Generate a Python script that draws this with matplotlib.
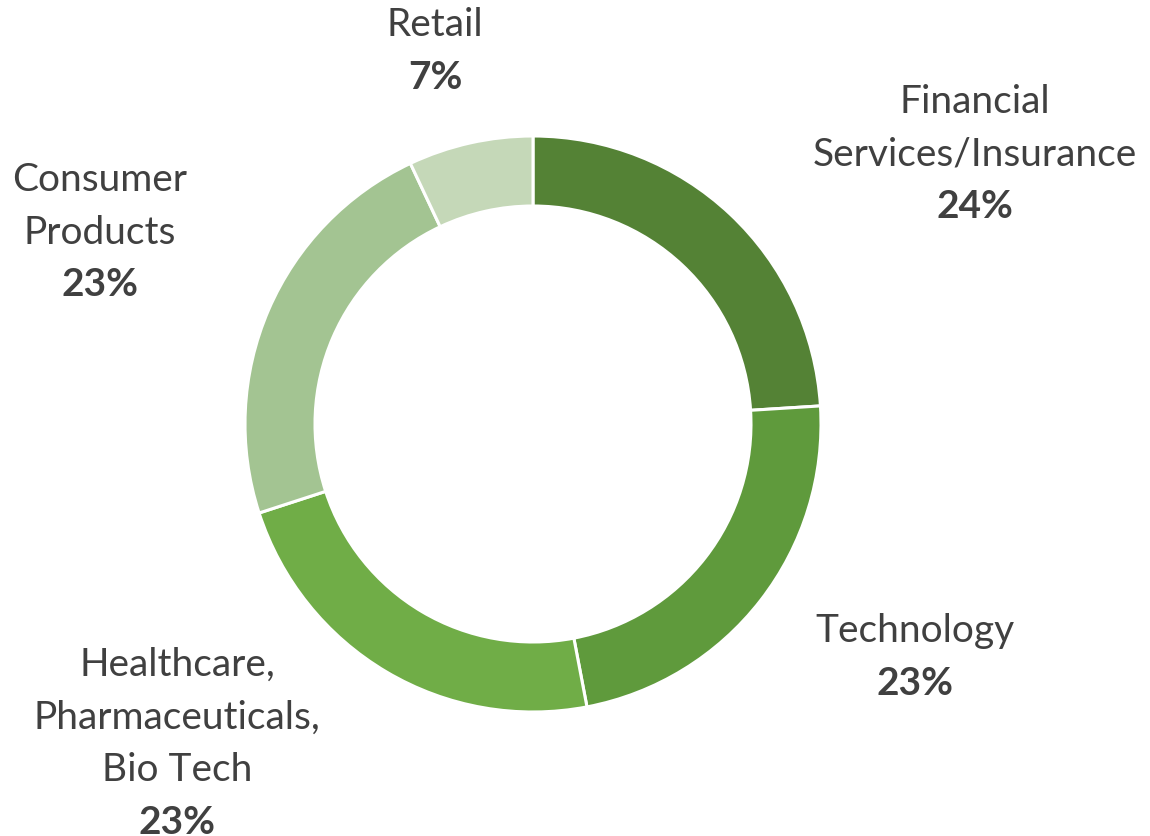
import matplotlib
matplotlib.use("Agg")
from matplotlib import pyplot as plt

# data
sectors = ["Financial\nServices/Insurance", "Technology",
           "Healthcare,\nPharmaceuticals,\nBio Tech", "Consumer\nProducts", "Retail"]
shares = [24, 23, 23, 23, 7]
colors = ["#548235", "#5f9a3c", "#70ad47", "#a3c492", "#c5d8b8"]

# label anchor (x, y of first line) in pixels from top-left
label_pos = [(975, 102), (915, 631), (177, 665), (100, 180), (435, 25)]

W, H = 1150, 837
fig = plt.figure(figsize=(W / 100, H / 100), dpi=100)
ax = fig.add_axes([0, 0, 1, 1])

cx, cy, R = 533, H - 425, 288
ax.pie(shares, colors=colors, startangle=90, counterclock=False,
       center=(cx, cy), radius=R, frame=True,
       wedgeprops=dict(width=70, edgecolor="white", linewidth=2.2))
ax.set_xlim(0, W)
ax.set_ylim(0, H)
ax.set_aspect("equal")
ax.axis("off")

font = "Lato"
line_h = 52.5
for name, val, (x, y) in zip(sectors, shares, label_pos):
    lines = name.split("\n")
    for i, ln in enumerate(lines):
        ax.text(x, H - (y + i * line_h), ln, ha="center", va="center",
                fontsize=28, color="#404040", family=font)
    ax.text(x, H - (y + len(lines) * line_h), f"{val}%", ha="center", va="center",
            fontsize=28, color="#404040", family=font, fontweight="bold")

fig.savefig("out.png", dpi=100)
